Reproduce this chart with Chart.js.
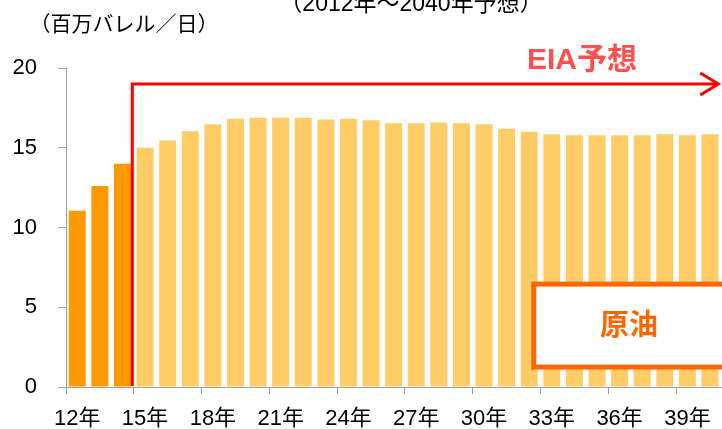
<!DOCTYPE html>
<html>
<head>
<meta charset="utf-8">
<script src="https://cdn.jsdelivr.net/npm/chart.js@4.4.1/dist/chart.umd.min.js"></script>
<style>
  html, body { margin: 0; padding: 0; background: #ffffff; }
  #wrap { width: 722px; height: 429px; position: relative; overflow: hidden; }
</style>
</head>
<body>
<div id="wrap"><canvas id="c" width="722" height="429"></canvas></div>
<script>
// ---- data ----
const years = ['12年','13年','14年','15年','16年','17年','18年','19年','20年','21年',
               '22年','23年','24年','25年','26年','27年','28年','29年','30年','31年',
               '32年','33年','34年','35年','36年','37年','38年','39年','40年'];
const crudeOil = [11.05, 12.6, 14.0, 15.0, 15.45, 16.04, 16.48, 16.82, 16.88, 16.88,
                  16.88, 16.77, 16.82, 16.73, 16.54, 16.54, 16.58, 16.54, 16.48, 16.19,
                  16.0, 15.85, 15.79, 15.79, 15.79, 15.79, 15.85, 15.79, 15.85];
const actualYears = 3; // 2012-2014 actual, rest EIA forecast
const yTicks = [0, 5, 10, 15, 20];
const titleText = '（2012年～2040年予想）';
const unitText = '（百万バレル／日）';
const forecastText = 'EIA予想';
const seriesText = '原油';

const FONT = "'Liberation Sans', Arial, 'Noto Sans CJK JP', sans-serif";
const barColors = crudeOil.map((v, i) => i < actualYears ? '#ff9900' : '#ffcc66');

const overlay = {
  id: 'overlay',
  afterDraw(chart) {
    const ctx = chart.ctx;
    const xs = chart.scales.x, ys = chart.scales.y;
    const area = chart.chartArea;
    const catW = (xs.getPixelForValue(1) - xs.getPixelForValue(0));
    ctx.save();
    // title (cut at top)
    ctx.fillStyle = '#000';
    ctx.font = "23px " + FONT;
    ctx.textAlign = 'center';
    ctx.textBaseline = 'alphabetic';
    ctx.fillText(titleText, 411, 11);
    // unit
    ctx.font = "21px " + FONT;
    ctx.textBaseline = 'middle';
    ctx.fillText(unitText, 124, 25);

    // forecast arrow
    const xLine = (xs.getPixelForValue(actualYears - 1) + xs.getPixelForValue(actualYears)) / 2 - 1.5;
    const yArrow = ys.getPixelForValue(19);
    const xTip = area.right - 3;
    ctx.strokeStyle = '#ff0000';
    ctx.lineWidth = 3;
    ctx.lineJoin = 'miter';
    ctx.beginPath();
    ctx.moveTo(xLine, area.bottom - 1);
    ctx.lineTo(xLine, yArrow);
    ctx.lineTo(xTip, yArrow);
    ctx.stroke();
    ctx.beginPath();
    ctx.moveTo(xTip - 18, yArrow - 11);
    ctx.lineTo(xTip, yArrow);
    ctx.lineTo(xTip - 18, yArrow + 11);
    ctx.stroke();

    // forecast label
    ctx.fillStyle = '#ff5050';
    ctx.font = "bold 30px " + FONT;
    ctx.textAlign = 'center';
    ctx.textBaseline = 'middle';
    ctx.fillText(forecastText, 582, 61);

    // series box
    const bx = area.left + catW * 20.7;
    const by1 = ys.getPixelForValue(6.45);
    const by2 = ys.getPixelForValue(1.25);
    ctx.fillStyle = '#ffffff';
    ctx.fillRect(bx, by1, 760 - bx, by2 - by1);
    ctx.strokeStyle = '#ff6600';
    ctx.lineWidth = 5;
    ctx.strokeRect(bx, by1, 760 - bx, by2 - by1);
    ctx.fillStyle = '#ff6600';
    ctx.font = "bold 29px " + FONT;
    ctx.fillText(seriesText, 629, (by1 + by2) / 2 + 1);
    ctx.restore();
  }
};

new Chart(document.getElementById('c'), {
  type: 'bar',
  data: {
    labels: years,
    datasets: [{
      label: seriesText,
      data: crudeOil,
      backgroundColor: barColors,
      borderWidth: 0,
      barPercentage: 0.75,
      categoryPercentage: 1.0
    }]
  },
  options: {
    responsive: false,
    devicePixelRatio: 1,
    animation: false,
    layout: { padding: { top: 68, left: 0, right: 0, bottom: 0 } },
    plugins: { legend: { display: false }, tooltip: { enabled: false } },
    scales: {
      x: {
        offset: true,
        grid: {
          offset: true,
          drawOnChartArea: false,
          drawTicks: true,
          tickLength: 7,
          color: (c) => (c.index !== undefined && c.index % 3 === 0) ? '#a0a0a0' : 'rgba(0,0,0,0)'
        },
        border: { display: true, color: '#a0a0a0', width: 1 },
        ticks: {
          autoSkip: false,
          maxRotation: 0,
          minRotation: 0,
          padding: 12,
          color: '#000',
          font: { family: FONT, size: 22 },
          callback: (v, i) => (i % 3 === 0 ? years[i] : '')
        },
        afterFit: (s) => { s.height = 42; }
      },
      y: {
        min: 0,
        max: 20,
        afterBuildTicks: (s) => { s.ticks = yTicks.map(v => ({ value: v })); },
        grid: {
          drawOnChartArea: false,
          drawTicks: true,
          tickLength: 8,
          color: '#a0a0a0'
        },
        border: { display: true, color: '#a0a0a0', width: 1 },
        ticks: {
          padding: 21,
          color: '#000',
          font: { family: FONT, size: 22 }
        },
        afterFit: (s) => { s.width = 66; }
      }
    }
  },
  plugins: [overlay]
});
</script>
</body>
</html>
